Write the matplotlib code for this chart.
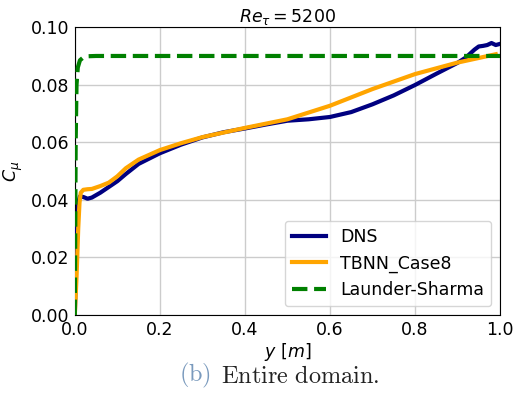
import matplotlib
matplotlib.use("Agg")
import matplotlib.pyplot as plt

# wall-normal coordinate and C_mu profiles, Re_tau = 5200
y_dns = [0.0, 0.002, 0.005, 0.008, 0.012, 0.02, 0.03, 0.04, 0.06, 0.08, 0.1,
         0.12, 0.15, 0.2, 0.25, 0.3, 0.35, 0.4, 0.45, 0.5, 0.55, 0.6, 0.65,
         0.7, 0.75, 0.8, 0.85, 0.9, 0.92, 0.94, 0.95, 0.96, 0.97, 0.98, 0.99, 1.0]
cmu_dns = [0.0, 0.012, 0.030, 0.039, 0.0412, 0.0410, 0.0404, 0.0408, 0.0425,
           0.0445, 0.0465, 0.0490, 0.0525, 0.0562, 0.0592, 0.0617, 0.0635,
           0.0648, 0.0662, 0.0675, 0.0680, 0.0688, 0.0705, 0.0732, 0.0763,
           0.0799, 0.0838, 0.0876, 0.0895, 0.0922, 0.0933, 0.0935, 0.0938,
           0.0945, 0.0938, 0.0942]

y_tbnn = [0.0, 0.004, 0.008, 0.011, 0.014, 0.02, 0.03, 0.04, 0.06, 0.08, 0.1,
          0.12, 0.15, 0.2, 0.25, 0.3, 0.4, 0.5, 0.6, 0.7, 0.8, 0.9, 0.95, 0.99]
cmu_tbnn = [0.0, 0.013, 0.030, 0.039, 0.0425, 0.0435, 0.0437, 0.0438, 0.0448,
            0.0460, 0.0482, 0.0510, 0.0540, 0.0573, 0.0597, 0.0618, 0.0650,
            0.0680, 0.0727, 0.0785, 0.0837, 0.0877, 0.0893, 0.0906]

y_ls = [0.0, 0.001, 0.002, 0.004, 0.007, 0.012, 0.02, 0.03, 0.05, 1.0]
cmu_ls = [0.0, 0.030, 0.060, 0.080, 0.086, 0.0885, 0.0895, 0.0899, 0.090, 0.090]

xticks = [0.0, 0.2, 0.4, 0.6, 0.8, 1.0]
yticks = [0.00, 0.02, 0.04, 0.06, 0.08, 0.10]

plt.rcParams["mathtext.fontset"] = "dejavusans"

fig = plt.figure(figsize=(5.16, 3.94), dpi=100)
ax = fig.add_axes([0.145, 0.2005, 0.824, 0.7305])

ax.plot(y_dns, cmu_dns, color="navy", lw=3, label="DNS", zorder=3)
ax.plot(y_tbnn, cmu_tbnn, color="orange", lw=3, label="TBNN_Case8", zorder=4)
ax.plot(y_ls, cmu_ls, color="green", lw=3, ls="--", label="Launder-Sharma", zorder=5)

ax.set_xlim(0, 1)
ax.set_ylim(0, 0.1)
ax.set_xticks(xticks)
ax.set_yticks(yticks)
ax.set_xticklabels([f"{t:.1f}" for t in xticks])
ax.set_yticklabels([f"{t:.2f}" for t in yticks])
ax.tick_params(length=0, pad=4, labelsize=12.5)
ax.grid(True, color="#cccccc", lw=1)
ax.set_axisbelow(True)

ax.set_xlabel(r"$y\ [m]$", fontsize=12.5, labelpad=2)
ax.set_ylabel(r"$C_\mu$", fontsize=12.5, labelpad=4)
ax.set_title(r"$Re_\tau = 5200$", fontsize=12.5, pad=3)
ax.legend(loc="lower right", fontsize=12.5)

# subfigure caption
fig.text(0.409, 0.046, r"$\mathrm{(b)}$", color="#7a9abd", fontsize=17.5,
         math_fontfamily="cm", ha="right", va="center")
fig.text(0.428, 0.046, r"$\mathrm{Entire\ domain.}$", color="#222222", fontsize=17.5,
         math_fontfamily="cm", ha="left", va="center")

fig.savefig("out.png", dpi=100)
